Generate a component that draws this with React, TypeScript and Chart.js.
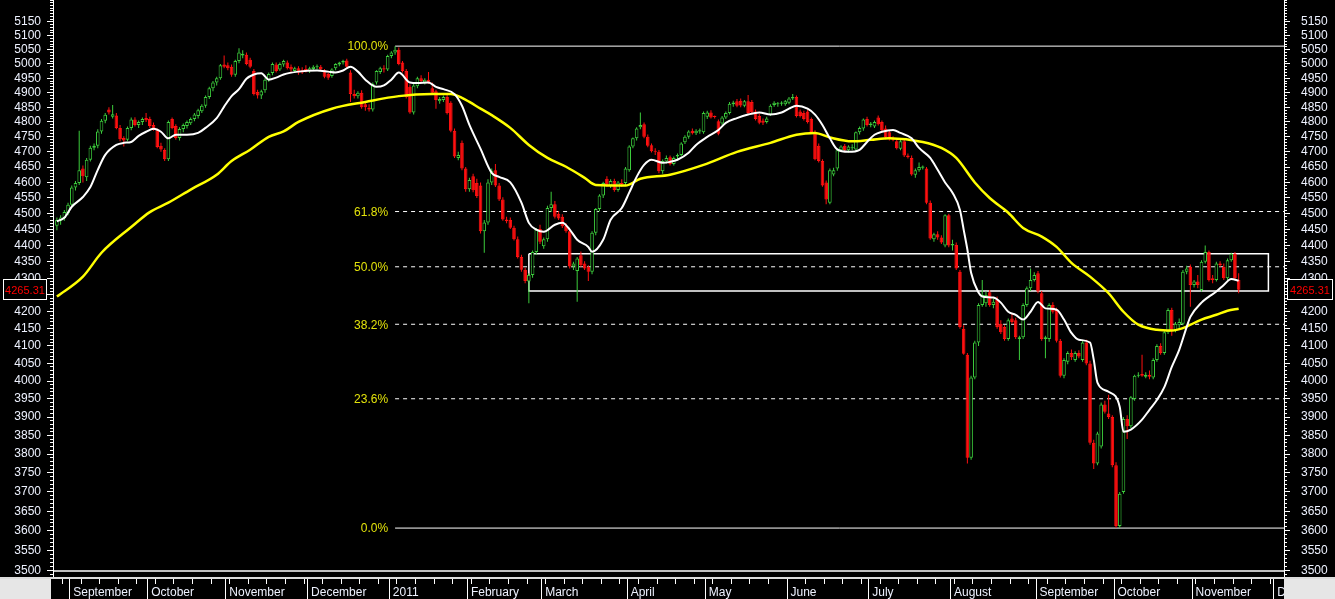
import React, { useEffect, useRef } from "react";
import { Chart, registerables } from "chart.js";

Chart.register(...registerables);

type Candle = [number, number, number, number]; // open, high, low, close

// ---- daily candles, one array per month ----
const aug2010: Candle[] = [
  [4462, 4488, 4448, 4480], [4478, 4495, 4465, 4488], [4486, 4512, 4478, 4505], [4502, 4535, 4495, 4528],
];
const sep2010: Candle[] = [
  [4528, 4590, 4522, 4584], [4584, 4605, 4574, 4598], [4598, 4770, 4592, 4640], [4645, 4655, 4600, 4620],
  [4617, 4680, 4605, 4674], [4674, 4720, 4668, 4714], [4714, 4728, 4705, 4720], [4720, 4775, 4712, 4768],
  [4768, 4810, 4760, 4804], [4804, 4830, 4796, 4824], [4842, 4850, 4825, 4832], [4818, 4858, 4812, 4826],
  [4822, 4830, 4775, 4780], [4780, 4790, 4735, 4742], [4746, 4752, 4718, 4738], [4740, 4785, 4735, 4780],
  [4780, 4815, 4772, 4808], [4808, 4816, 4785, 4790], [4790, 4805, 4780, 4800], [4800, 4815, 4790, 4810],
  [4813, 4830, 4800, 4806],
];
const oct2010: Candle[] = [
  [4810, 4818, 4780, 4786], [4790, 4798, 4770, 4778], [4772, 4778, 4712, 4716], [4720, 4730, 4700, 4708],
  [4706, 4712, 4670, 4676], [4676, 4805, 4670, 4800], [4810, 4815, 4775, 4780], [4786, 4792, 4740, 4746],
  [4746, 4782, 4738, 4776], [4776, 4795, 4765, 4790], [4786, 4805, 4778, 4800], [4796, 4815, 4790, 4810],
  [4810, 4830, 4802, 4825], [4820, 4845, 4812, 4840], [4836, 4860, 4830, 4855], [4855, 4890, 4848, 4885],
  [4885, 4920, 4878, 4915], [4915, 4940, 4905, 4935], [4935, 4955, 4925, 4950], [4950, 5000, 4945, 4995],
  [4998, 5030, 4985, 4990],
];
const nov2010: Candle[] = [
  [4995, 5005, 4978, 4985], [4990, 4998, 4955, 4962], [4962, 5015, 4955, 5010], [5010, 5055, 5002, 5040],
  [5030, 5048, 5020, 5036], [5032, 5040, 4995, 5000], [5015, 5022, 4985, 4990], [4975, 4982, 4890, 4895],
  [4902, 4910, 4880, 4890], [4890, 4910, 4878, 4905], [4908, 4950, 4900, 4945], [4945, 4970, 4938, 4965],
  [4968, 5005, 4960, 5000], [4998, 5005, 4970, 4975], [4980, 5005, 4975, 5000], [4998, 5015, 4990, 5010],
  [5005, 5012, 4980, 4985], [4990, 4998, 4972, 4980], [4975, 4990, 4968, 4985], [4985, 4992, 4962, 4970],
  [4978, 4988, 4965, 4970], [4982, 4995, 4970, 4975],
];
const dec2010: Candle[] = [
  [4975, 4990, 4968, 4985], [4982, 4995, 4975, 4990], [4988, 4998, 4980, 4992], [4990, 4996, 4975, 4980],
  [4978, 4982, 4950, 4955], [4965, 4970, 4945, 4952], [4958, 4985, 4952, 4980], [4985, 5002, 4978, 5000],
  [4998, 5008, 4992, 5005], [5005, 5015, 4998, 5010], [5012, 5018, 4985, 4990], [4970, 4978, 4868, 4895],
  [4895, 4910, 4880, 4888], [4888, 4905, 4880, 4900], [4900, 4908, 4845, 4850], [4860, 4868, 4838, 4850],
  [4848, 4860, 4835, 4842], [4842, 4935, 4835, 4930], [4935, 4978, 4928, 4975], [4972, 4990, 4965, 4985],
  [4985, 4995, 4970, 4980], [4980, 5032, 4975, 5028],
];
const jan2011: Candle[] = [
  [5028, 5045, 5020, 5040], [5040, 5063, 5032, 5050], [5050, 5058, 4995, 5000], [5005, 5010, 4970, 4975],
  [4975, 4982, 4880, 4885], [4920, 4928, 4828, 4832], [4832, 4930, 4825, 4925], [4922, 4955, 4915, 4950],
  [4950, 4960, 4935, 4940], [4935, 4950, 4928, 4945], [4945, 4972, 4930, 4935], [4915, 4935, 4895, 4900],
  [4905, 4910, 4845, 4875], [4870, 4885, 4862, 4878], [4875, 4890, 4868, 4885], [4885, 4892, 4825, 4830],
  [4865, 4870, 4765, 4770], [4770, 4778, 4680, 4685], [4680, 4700, 4672, 4690], [4730, 4738, 4640, 4645],
  [4645, 4650, 4570, 4578],
];
const feb2011: Candle[] = [
  [4578, 4615, 4570, 4608], [4620, 4628, 4568, 4575], [4598, 4612, 4550, 4556], [4590, 4600, 4438, 4445],
  [4445, 4480, 4378, 4472], [4472, 4610, 4465, 4600], [4600, 4645, 4592, 4638], [4640, 4660, 4585, 4590],
  [4590, 4598, 4540, 4545], [4545, 4552, 4478, 4482], [4482, 4490, 4470, 4476], [4480, 4488, 4452, 4456],
  [4456, 4462, 4416, 4420], [4420, 4428, 4360, 4365], [4365, 4372, 4320, 4326], [4326, 4332, 4285, 4292],
  [4290, 4315, 4225, 4310], [4310, 4385, 4302, 4380], [4380, 4455, 4372, 4450], [4452, 4465, 4405, 4412],
];
const mar2011: Candle[] = [
  [4398, 4425, 4390, 4420], [4420, 4525, 4412, 4518], [4518, 4570, 4505, 4530], [4530, 4540, 4485, 4490],
  [4500, 4508, 4480, 4485], [4490, 4498, 4455, 4460], [4462, 4470, 4440, 4445], [4445, 4450, 4330, 4336],
  [4336, 4350, 4325, 4345], [4322, 4365, 4230, 4360], [4370, 4382, 4335, 4340], [4345, 4352, 4325, 4330],
  [4335, 4340, 4292, 4320], [4320, 4445, 4312, 4440], [4440, 4518, 4432, 4515], [4515, 4562, 4508, 4558],
  [4558, 4602, 4550, 4598], [4612, 4620, 4585, 4590], [4590, 4610, 4582, 4605], [4605, 4612, 4570, 4576],
  [4576, 4605, 4570, 4600], [4598, 4610, 4585, 4595], [4598, 4650, 4592, 4645],
];
const apr2011: Candle[] = [
  [4640, 4722, 4635, 4718], [4718, 4748, 4712, 4745], [4745, 4782, 4738, 4778], [4782, 4832, 4775, 4790],
  [4792, 4798, 4745, 4750], [4750, 4758, 4715, 4720], [4722, 4728, 4698, 4702], [4702, 4712, 4690, 4700],
  [4700, 4706, 4630, 4636], [4636, 4675, 4628, 4670], [4668, 4688, 4662, 4680], [4682, 4688, 4655, 4660],
  [4660, 4685, 4655, 4680], [4685, 4695, 4675, 4690], [4690, 4732, 4685, 4728], [4732, 4755, 4726, 4750],
  [4750, 4772, 4744, 4768], [4770, 4778, 4758, 4762], [4762, 4775, 4756, 4770], [4768, 4778, 4760, 4772],
  [4765, 4835, 4760, 4830],
];
const may2011: Candle[] = [
  [4818, 4838, 4810, 4832], [4832, 4840, 4812, 4815], [4818, 4822, 4812, 4817], [4802, 4808, 4755, 4760],
  [4795, 4820, 4790, 4815], [4815, 4835, 4810, 4830], [4830, 4868, 4825, 4862], [4860, 4872, 4852, 4866],
  [4870, 4878, 4850, 4855], [4872, 4880, 4850, 4856], [4855, 4875, 4850, 4870], [4870, 4892, 4825, 4830],
  [4868, 4875, 4825, 4832], [4835, 4842, 4805, 4810], [4820, 4828, 4792, 4797], [4805, 4812, 4790, 4797],
  [4800, 4818, 4795, 4812], [4825, 4860, 4820, 4855], [4858, 4870, 4852, 4865], [4860, 4868, 4852, 4862],
  [4862, 4870, 4855, 4866], [4860, 4875, 4855, 4870],
];
const jun2011: Candle[] = [
  [4865, 4885, 4860, 4880], [4880, 4895, 4875, 4885], [4885, 4890, 4815, 4820], [4835, 4842, 4815, 4820],
  [4830, 4838, 4805, 4810], [4835, 4842, 4795, 4800], [4810, 4815, 4762, 4766], [4766, 4772, 4672, 4676],
  [4720, 4728, 4665, 4670], [4670, 4676, 4586, 4590], [4600, 4606, 4530, 4545], [4535, 4645, 4530, 4640],
  [4626, 4648, 4620, 4640], [4645, 4710, 4638, 4705], [4705, 4722, 4700, 4718], [4720, 4726, 4700, 4705],
  [4705, 4722, 4698, 4718], [4712, 4725, 4705, 4715], [4708, 4768, 4702, 4765], [4765, 4785, 4758, 4780],
  [4778, 4812, 4770, 4808], [4810, 4818, 4785, 4790],
];
const jul2011: Candle[] = [
  [4790, 4800, 4782, 4795], [4785, 4805, 4780, 4800], [4815, 4822, 4788, 4792], [4800, 4805, 4768, 4772],
  [4778, 4788, 4742, 4748], [4765, 4772, 4738, 4742], [4745, 4752, 4735, 4740], [4735, 4742, 4708, 4712],
  [4710, 4740, 4705, 4735], [4735, 4742, 4683, 4688], [4688, 4695, 4678, 4682], [4680, 4688, 4622, 4626],
  [4625, 4645, 4615, 4640], [4640, 4665, 4635, 4650], [4648, 4655, 4642, 4652], [4645, 4650, 4530, 4535],
  [4535, 4542, 4418, 4422], [4420, 4440, 4412, 4435], [4435, 4445, 4418, 4425], [4425, 4432, 4405, 4410],
  [4400, 4498, 4395, 4495], [4495, 4500, 4395, 4400],
];
const aug2011: Candle[] = [
  [4400, 4418, 4385, 4405], [4402, 4410, 4325, 4330], [4320, 4325, 4150, 4155], [4150, 4160, 4075, 4078],
  [4075, 4080, 3775, 3790], [3790, 4015, 3785, 4010], [4010, 4115, 4005, 4110], [4110, 4225, 4100, 4220],
  [4220, 4295, 4215, 4250], [4225, 4260, 4215, 4250], [4258, 4265, 4215, 4220], [4220, 4240, 4210, 4230],
  [4235, 4245, 4150, 4155], [4165, 4175, 4135, 4140], [4155, 4160, 4115, 4120], [4120, 4180, 4115, 4175],
  [4180, 4195, 4165, 4170], [4175, 4182, 4120, 4125], [4120, 4130, 4060, 4125], [4125, 4225, 4120, 4220],
  [4220, 4275, 4215, 4270], [4270, 4330, 4262, 4295], [4295, 4318, 4290, 4310],
];
const sep2011: Candle[] = [
  [4315, 4322, 4255, 4260], [4255, 4262, 4115, 4120], [4120, 4130, 4065, 4125], [4120, 4225, 4112, 4220],
  [4220, 4228, 4195, 4200], [4205, 4212, 4110, 4115], [4115, 4120, 4010, 4015], [4015, 4065, 4008, 4060],
  [4055, 4085, 4048, 4080], [4080, 4090, 4060, 4068], [4060, 4085, 4055, 4080], [4080, 4088, 4065, 4070],
  [4060, 4115, 4055, 4110], [4110, 4118, 4045, 4050], [4050, 4058, 3825, 3830], [3830, 3838, 3760, 3775],
  [3775, 3860, 3770, 3855], [3820, 3940, 3815, 3935], [3935, 3945, 3910, 3915], [3910, 3962, 3895, 3900],
  [3900, 3905, 3765, 3770],
];
const oct2011: Candle[] = [
  [3770, 3778, 3607, 3612], [3612, 3700, 3607, 3695], [3700, 3900, 3695, 3895], [3895, 3905, 3840, 3875],
  [3875, 3958, 3870, 3955], [3950, 4018, 3945, 4015], [4015, 4025, 4010, 4018], [4020, 4075, 4012, 4015],
  [4012, 4025, 4008, 4018], [4018, 4030, 4005, 4012], [4010, 4065, 4005, 4060], [4060, 4105, 4055, 4100],
  [4100, 4108, 4075, 4080], [4080, 4145, 4075, 4140], [4140, 4210, 4135, 4205], [4205, 4212, 4130, 4145],
  [4145, 4170, 4140, 4165], [4160, 4180, 4150, 4170], [4165, 4325, 4160, 4320], [4320, 4338, 4312, 4330],
  [4335, 4342, 4215, 4280],
];
const nov2011: Candle[] = [
  [4280, 4295, 4272, 4290], [4290, 4310, 4270, 4280], [4265, 4355, 4260, 4350], [4350, 4400, 4345, 4380],
  [4380, 4385, 4290, 4295], [4300, 4310, 4285, 4295], [4295, 4350, 4290, 4345], [4345, 4352, 4335, 4340],
  [4335, 4345, 4295, 4300], [4300, 4360, 4295, 4355], [4355, 4378, 4350, 4375], [4375, 4380, 4295, 4300],
  [4295, 4315, 4255, 4265.31],
];

// trading sessions per calendar month (Aug 2010 partial ... Nov 2011)
const monthDays = [4, 21, 21, 22, 22, 21, 20, 23, 21, 22, 22, 22, 23, 21, 21, 22];
const monthLabels = [
  "September", "October", "November", "December", "2011", "February", "March", "April",
  "May", "June", "July", "August", "September", "October", "November", "December",
];

// white moving average (session index, value)
const whiteIdx = [
  0, 2, 4, 7, 9, 11, 13, 16, 18, 20, 22, 24, 26, 28, 30, 32, 35, 38, 40, 43,
  45, 47, 49, 51, 53, 55, 57, 59, 61, 65, 70, 73, 75, 77, 79, 81, 83, 86, 88, 90,
  92, 95, 97, 100, 102, 104, 107, 109, 111, 114, 117, 119, 122, 125, 127, 129, 131, 134, 136, 138,
  140, 143, 144, 147, 149, 152, 154, 156, 158, 160, 163, 165, 167, 170, 172, 175, 178, 180, 183, 186,
  189, 192, 195, 197, 199, 202, 204, 206, 208, 210, 213, 216, 218, 220, 222, 225, 227, 230, 232, 235,
  237, 239, 241, 243, 244, 245, 246, 248, 249, 252, 254, 256, 258, 260, 262, 264, 266, 269, 271, 273,
  275, 278, 279, 280, 283, 286, 287, 289, 292, 294, 296, 298, 300, 302, 304, 305, 308, 310, 312, 314,
  316, 318,
];
const whiteVal = [
  4476, 4487, 4522, 4553, 4585, 4641, 4690, 4723, 4730, 4733, 4753, 4767, 4777, 4767, 4745, 4757, 4757, 4763, 4780, 4813,
  4852, 4888, 4912, 4948, 4963, 4967, 4945, 4952, 4963, 4973, 4977, 4973, 4970, 4977, 4990, 4973, 4945, 4920, 4925, 4945,
  4970, 4935, 4933, 4935, 4920, 4912, 4895, 4855, 4790, 4710, 4631, 4618, 4600, 4535, 4471, 4450, 4443, 4465, 4471, 4450,
  4418, 4396, 4381, 4418, 4481, 4518, 4567, 4618, 4657, 4674, 4664, 4667, 4674, 4697, 4723, 4750, 4773, 4797, 4813, 4825,
  4832, 4825, 4832, 4845, 4855, 4845, 4825, 4790, 4745, 4708, 4700, 4707, 4733, 4757, 4767, 4773, 4763, 4745, 4713, 4680,
  4641, 4600, 4567, 4512, 4450, 4388, 4317, 4257, 4245, 4242, 4227, 4200, 4191, 4177, 4200, 4229, 4210, 4206, 4177, 4138,
  4118, 4110, 4061, 3996, 3970, 3928, 3860, 3866, 3893, 3920, 3947, 3983, 4040, 4089, 4155, 4185, 4227, 4245, 4260, 4280,
  4298, 4293,
];

// yellow moving average (session index, value)
const yellowIdx = [
  0, 7, 12, 20, 25, 30, 36, 43, 47, 52, 57, 61, 65, 74, 83, 92, 101, 106, 109, 111,
  114, 117, 122, 127, 132, 137, 142, 145, 153, 157, 165, 174, 183, 192, 199, 204, 208, 214, 219, 224,
  233, 238, 242, 247, 251, 256, 260, 265, 269, 273, 278, 283, 287, 291, 296, 300, 303, 308, 312, 315,
  318,
];
const yellowVal = [
  4245, 4305, 4378, 4458, 4505, 4535, 4577, 4625, 4670, 4707, 4750, 4768, 4800, 4845, 4868, 4888, 4895, 4895, 4882, 4868,
  4845, 4823, 4780, 4723, 4680, 4651, 4615, 4592, 4590, 4612, 4625, 4657, 4700, 4730, 4757, 4763, 4748, 4735, 4740, 4745,
  4733, 4713, 4680, 4600, 4550, 4503, 4455, 4428, 4396, 4347, 4305, 4255, 4200, 4162, 4147, 4145, 4152, 4177, 4191, 4203,
  4209,
];

const fibRatios = [0, 0.236, 0.382, 0.5, 0.618, 1];
const fibLabels = ["0.0%", "23.6%", "38.2%", "50.0%", "61.8%", "100.0%"];
const boxValues = [4262, 4375];
const boxSessions = [127, 326];
const baseLevel = 3500;
const yRange = [3485, 5230];
const xRange = [-1.05, 330.2];

const FONT = 'Arial, "Liberation Sans", sans-serif';
const GREEN = "#3ccc3c";
const RED = "#ff1010";
const LABEL = "#eef2ff";
const FIB = "#e2e20a";

export default function App() {
  const ref = useRef<HTMLCanvasElement | null>(null);

  useEffect(() => {
    const canvas = ref.current;
    if (!canvas) return;
    const candles: Candle[] = [
      ...aug2010, ...sep2010, ...oct2010, ...nov2010, ...dec2010, ...jan2011, ...feb2011, ...mar2011,
      ...apr2011, ...may2011, ...jun2011, ...jul2011, ...aug2011, ...sep2011, ...oct2011, ...nov2011,
    ];
    const n = candles.length;
    const up = candles.map((c) => c[3] >= c[0]);
    const [xMin, xMax] = xRange;
    const [yMin, yMax] = yRange;

    const sepTicks: number[] = [];
    let acc = 0;
    for (const d of monthDays) {
      acc += d;
      sepTicks.push(acc - 0.5);
    }
    const weekTicks: number[] = [];
    for (let w = 1.5; w < xMax; w += 5) weekTicks.push(w);
    const major: number[] = [];
    for (let v = 3500; v <= 5150; v += 50) major.push(v);
    const minor: number[] = [];
    for (let v = 3490; v <= 5230; v += 10) minor.push(v);

    const hi = Math.max(...candles.map((c) => c[1]));
    const lo = Math.min(...candles.map((c) => c[2]));
    const peakIdx = candles.findIndex((c) => c[1] === hi);
    const lastClose = candles[n - 1][3];

    const fibSets = fibRatios.map((r) => {
      const lvl = lo + r * (hi - lo);
      return {
        type: "line" as const,
        data: [{ x: peakIdx, y: lvl }, { x: xMax, y: lvl }],
        borderColor: "#ffffff",
        borderWidth: 1,
        borderDash: r === 0 || r === 1 ? [] : [4, 4],
        pointRadius: 0,
        order: 5,
      };
    });

    const [bLo, bHi] = boxValues;
    const [bS, bE] = boxSessions;

    const overlay = {
      id: "overlay",
      afterDatasetsDraw(chart: any) {
        const { ctx } = chart;
        const xs = chart.scales.x;
        const ys = chart.scales.y;
        ctx.save();
        ctx.font = `12px ${FONT}`;
        ctx.fillStyle = FIB;
        ctx.textAlign = "right";
        ctx.textBaseline = "middle";
        const px = xs.getPixelForValue(peakIdx) - 7;
        fibRatios.forEach((r, k) => {
          const lvl = lo + r * (hi - lo);
          ctx.fillText(fibLabels[k], px, ys.getPixelForValue(lvl) + 1);
        });
        ctx.restore();
      },
      afterDraw(chart: any) {
        const { ctx, chartArea } = chart;
        const ys = chart.scales.y;
        const py = Math.round(ys.getPixelForValue(lastClose));
        const txt = lastClose.toFixed(2);
        const boxes = [
          [chartArea.left - 50, 44],
          [chartArea.right + 3, 46],
        ];
        ctx.save();
        ctx.font = `11px ${FONT}`;
        ctx.textAlign = "center";
        ctx.textBaseline = "middle";
        for (const [bx, bw] of boxes) {
          ctx.fillStyle = "#000000";
          ctx.fillRect(bx, py - 11, bw, 21);
          ctx.strokeStyle = "#ffffff";
          ctx.lineWidth = 1;
          ctx.strokeRect(bx + 0.5, py - 10.5, bw - 1, 20);
          ctx.fillStyle = "#ff0000";
          ctx.fillText(txt, bx + bw / 2, py + 1);
        }
        ctx.restore();
      },
    };

    const tickFont = { family: FONT, size: 12 };
    const yCommon = (pos: "left" | "right", weight: number) => ({
      type: "logarithmic" as const,
      position: pos,
      min: yMin,
      max: yMax,
      weight,
    });

    const chart = new Chart(canvas, {
      type: "bar",
      data: {
        datasets: [
          {
            type: "line",
            data: whiteIdx.map((x, k) => ({ x, y: whiteVal[k] })),
            borderColor: "#ffffff",
            borderWidth: 2,
            pointRadius: 0,
            cubicInterpolationMode: "monotone",
            order: 0,
          } as any,
          {
            type: "line",
            data: yellowIdx.map((x, k) => ({ x, y: yellowVal[k] })),
            borderColor: "#ffff00",
            borderWidth: 2.5,
            pointRadius: 0,
            cubicInterpolationMode: "monotone",
            order: 1,
          } as any,
          {
            type: "bar",
            data: candles.map((c, i) => ({ x: i, y: [c[0], c[3]] })),
            backgroundColor: up.map((u) => (u ? "#000000" : RED)),
            borderColor: up.map((u) => (u ? GREEN : RED)),
            borderWidth: 1,
            borderSkipped: false,
            grouped: false,
            maxBarThickness: 3.6,
            barPercentage: 1,
            categoryPercentage: 1,
            minBarLength: 1,
            inflateAmount: 0,
            order: 2,
          } as any,
          {
            type: "bar",
            data: candles.map((c, i) => ({ x: i, y: [c[2], c[1]] })),
            backgroundColor: up.map((u) => (u ? GREEN : RED)),
            borderWidth: 0,
            grouped: false,
            maxBarThickness: 1,
            barPercentage: 1,
            categoryPercentage: 1,
            inflateAmount: 0,
            order: 3,
          } as any,
          {
            type: "line",
            data: [
              { x: bS, y: bHi }, { x: bE, y: bHi }, { x: bE, y: bLo }, { x: bS, y: bLo }, { x: bS, y: bHi },
            ],
            borderColor: "#ffffff",
            borderWidth: 1.5,
            pointRadius: 0,
            order: 4,
          } as any,
          {
            type: "line",
            data: [{ x: xMin, y: baseLevel }, { x: xMax, y: baseLevel }],
            borderColor: "#ffffff",
            borderWidth: 1.5,
            pointRadius: 0,
            order: 5,
          } as any,
          ...(fibSets as any[]),
        ],
      },
      options: {
        animation: false,
        responsive: false,
        devicePixelRatio: 1,
        events: [],
        layout: { padding: 0, autoPadding: false },
        plugins: { legend: { display: false }, tooltip: { enabled: false } },
        scales: {
          x: {
            type: "linear",
            position: "bottom",
            min: xMin,
            max: xMax,
            offset: false,
            weight: 1,
            grid: { display: true, drawOnChartArea: false, drawTicks: true, tickLength: 22, color: "#ffffff", offset: false },
            border: { display: false },
            ticks: {
              autoSkip: false,
              maxRotation: 0,
              minRotation: 0,
              align: "start",
              padding: -14,
              color: LABEL,
              font: tickFont,
              callback: (_v: any, i: number) => " " + (monthLabels[i] ?? ""),
            },
            afterBuildTicks: (s: any) => {
              s.ticks = sepTicks.map((v) => ({ value: v }));
            },
            afterFit: (s: any) => {
              s.height = 22;
              s.paddingLeft = 0;
              s.paddingRight = 0;
            },
          } as any,
          xw: {
            type: "linear",
            position: "bottom",
            min: xMin,
            max: xMax,
            offset: false,
            weight: 0,
            grid: { display: true, drawOnChartArea: false, drawTicks: true, tickLength: 7, color: "#ffffff", offset: false },
            border: { display: false },
            ticks: { display: false, autoSkip: false },
            afterBuildTicks: (s: any) => {
              s.ticks = weekTicks.map((v) => ({ value: v }));
            },
            afterFit: (s: any) => {
              s.height = 0;
              s.paddingLeft = 0;
              s.paddingRight = 0;
            },
          } as any,
          y: {
            ...yCommon("left", 1),
            grid: { display: true, drawOnChartArea: false, drawTicks: true, tickLength: 6, color: "#ffffff" },
            border: { display: true, color: "#ffffff", width: 1 },
            ticks: { autoSkip: false, padding: 6, color: LABEL, font: tickFont, callback: (v: any) => String(v) },
            afterBuildTicks: (s: any) => {
              s.ticks = major.map((v) => ({ value: v }));
            },
            afterFit: (s: any) => {
              s.width = 53;
              s.paddingTop = 0;
              s.paddingBottom = 0;
            },
          } as any,
          yl2: {
            ...yCommon("left", 0),
            grid: { display: true, drawOnChartArea: false, drawTicks: true, tickLength: 3, color: "#ffffff" },
            border: { display: false },
            ticks: { display: false, autoSkip: false },
            afterBuildTicks: (s: any) => {
              s.ticks = minor.map((v) => ({ value: v }));
            },
            afterFit: (s: any) => {
              s.width = 0;
              s.paddingTop = 0;
              s.paddingBottom = 0;
            },
          } as any,
          yr: {
            ...yCommon("right", 1),
            grid: { display: true, drawOnChartArea: false, drawTicks: true, tickLength: 6, color: "#ffffff" },
            border: { display: true, color: "#ffffff", width: 1 },
            ticks: { autoSkip: false, padding: 11, color: LABEL, font: tickFont, callback: (v: any) => String(v) },
            afterBuildTicks: (s: any) => {
              s.ticks = major.map((v) => ({ value: v }));
            },
            afterFit: (s: any) => {
              s.width = 51;
              s.paddingTop = 0;
              s.paddingBottom = 0;
            },
          } as any,
          yr2: {
            ...yCommon("right", 0),
            grid: { display: true, drawOnChartArea: false, drawTicks: true, tickLength: 3, color: "#ffffff" },
            border: { display: false },
            ticks: { display: false, autoSkip: false },
            afterBuildTicks: (s: any) => {
              s.ticks = minor.map((v) => ({ value: v }));
            },
            afterFit: (s: any) => {
              s.width = 0;
              s.paddingTop = 0;
              s.paddingBottom = 0;
            },
          } as any,
        },
      } as any,
      plugins: [overlay],
    });

    return () => chart.destroy();
  }, []);

  return (
    <div style={{ position: "fixed", left: 0, top: 0, width: 1335, height: 599, background: "#000", overflow: "hidden" }}>
      <canvas ref={ref} width={1335} height={599} style={{ display: "block", position: "absolute", left: 0, top: 0 }} />
      <div style={{ position: "absolute", left: 0, top: 577, width: 1335, height: 2, background: "#dcdcdc" }} />
      <div style={{ position: "absolute", left: 0, top: 579, width: 51, height: 20, background: "#e6e6e6" }} />
      <div style={{ position: "absolute", left: 1284, top: 579, width: 51, height: 20, background: "#e6e6e6" }} />
    </div>
  );
}
